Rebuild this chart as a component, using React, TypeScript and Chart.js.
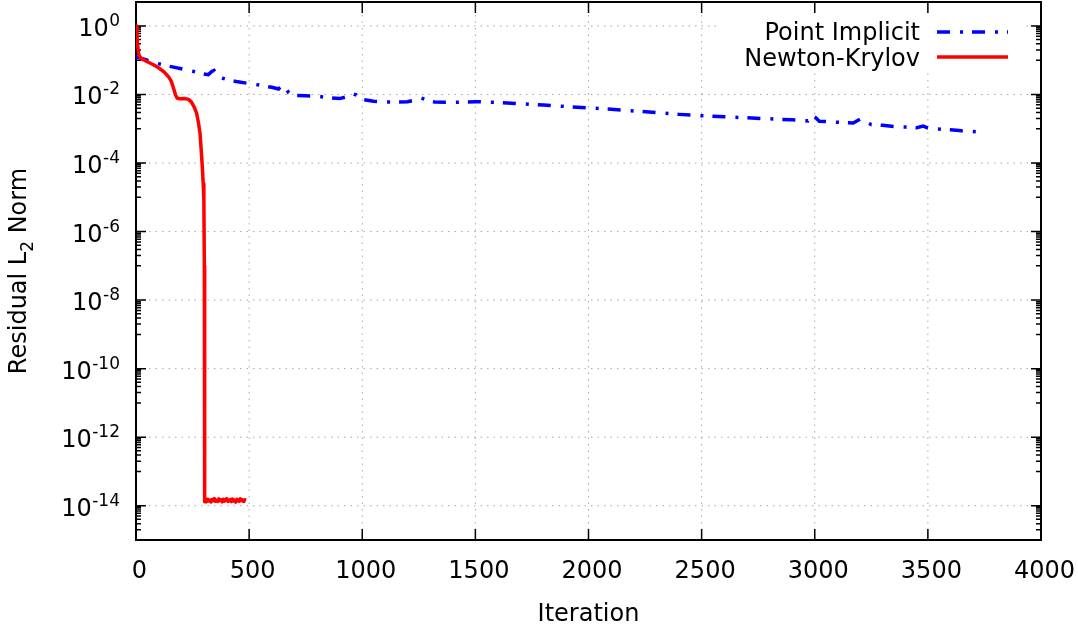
import { useEffect, useRef } from 'react';
import { Chart, registerables } from 'chart.js';

Chart.register(...registerables);

const FONT = '"DejaVu Sans", sans-serif';

// ---- Data ----
const nkIter = [
  0, 4, 8, 12, 18, 30, 50, 75, 100, 125, 145, 155, 165, 175, 182, 195, 215, 232, 245, 258,
  268, 276, 283, 288, 293, 297, 300, 302, 303, 304,
  306, 311, 316, 321, 326, 331, 336, 341, 346, 351, 356, 361, 366, 371, 376, 381, 386, 391,
  396, 401, 406, 411, 416, 421, 426, 431, 436, 441, 446, 451, 456, 461, 466, 471, 476, 481, 486,
];
const nkResidual = [
  1.0, 0.5, 0.25, 0.15, 0.12, 0.105, 0.09, 0.075, 0.06, 0.045, 0.032, 0.025, 0.016, 0.0095,
  0.0078, 0.0075, 0.0076, 0.0072, 0.006, 0.0042, 0.0028, 0.0015, 7.4e-4, 2.5e-4, 7.8e-5, 2.5e-5,
  8e-6, 1e-7, 1e-10, 1.3e-14,
  1.42e-14, 1.31e-14, 1.55e-14, 1.38e-14, 1.47e-14, 1.29e-14, 1.52e-14, 1.4e-14, 1.61e-14,
  1.35e-14, 1.44e-14, 1.33e-14, 1.58e-14, 1.41e-14, 1.49e-14, 1.3e-14, 1.53e-14, 1.37e-14,
  1.46e-14, 1.62e-14, 1.34e-14, 1.43e-14, 1.51e-14, 1.32e-14, 1.57e-14, 1.39e-14, 1.45e-14,
  1.28e-14, 1.54e-14, 1.42e-14, 1.36e-14, 1.59e-14, 1.4e-14, 1.48e-14, 1.33e-14, 1.5e-14, 1.44e-14,
];

const piIter = [
  0, 25, 50, 100, 150, 200, 250, 300, 320, 335, 345, 355, 370, 400, 450, 500, 550, 600, 630, 645,
  660, 675, 700, 750, 800, 850, 900, 930, 955, 975, 1000, 1050, 1100, 1150, 1200, 1240, 1260, 1290,
  1320, 1400, 1500, 1600, 1700, 1800, 1900, 2000, 2100, 2200, 2300, 2400, 2500, 2600, 2700, 2800,
  2900, 2970, 2990, 3005, 3020, 3100, 3170, 3200, 3220, 3250, 3300, 3350, 3400, 3450, 3480, 3500,
  3550, 3600, 3650, 3700, 3750,
];
const piResidual = [
  0.126, 0.112, 0.1, 0.0794, 0.0661, 0.0562, 0.0479, 0.0398, 0.038, 0.0468, 0.0501, 0.0398, 0.0316,
  0.0275, 0.0234, 0.0209, 0.0186, 0.0162, 0.0145, 0.0182, 0.0166, 0.0112, 0.00933, 0.00912, 0.00891,
  0.00813, 0.00759, 0.00851, 0.0107, 0.00955, 0.00724, 0.00631, 0.00603, 0.00603, 0.00617, 0.00708,
  0.00794, 0.00676, 0.00603, 0.00589, 0.00617, 0.00589, 0.00537, 0.0049, 0.00447, 0.00407, 0.00372,
  0.00331, 0.00295, 0.00263, 0.0024, 0.00224, 0.00209, 0.00195, 0.00182, 0.0017, 0.0024, 0.00209,
  0.00166, 0.00155, 0.00148, 0.00191, 0.00166, 0.00132, 0.00126, 0.00117, 0.00112, 0.00107, 0.0012,
  0.00105, 0.000977, 0.000933, 0.000871, 0.000832, 0.000794,
];

// ---- Axes ----
const xTickValues = [0, 500, 1000, 1500, 2000, 2500, 3000, 3500, 4000];
const yTickExponents = [0, -2, -4, -6, -8, -10, -12, -14];
const yMinorFactors = [0.1, 0.2, 0.3, 0.4, 0.5, 0.6, 0.7, 0.8, 0.9];
const X_MIN = 0;
const X_MAX = 4000;
const Y_MIN = 1e-15;
const Y_MAX = 5;

const seriesNames = ['Point Implicit', 'Newton-Krylov'];
const PI_DASH = [13, 10, 3, 9];
const LINE_W = 3.5;

const gnuplotPlugin = {
  id: 'gnuplotAxes',
  beforeDatasetsDraw(chart: any) {
    const { ctx, chartArea: a, scales } = chart;
    const xs = scales.x;
    const ys = scales.y;
    ctx.save();
    // grid
    ctx.strokeStyle = '#a8a8a8';
    ctx.lineWidth = 1;
    ctx.setLineDash([1.5, 5]);
    ctx.beginPath();
    for (const v of xTickValues) {
      if (v <= X_MIN || v >= X_MAX) continue;
      const px = xs.getPixelForValue(v);
      ctx.moveTo(px, a.top);
      ctx.lineTo(px, a.bottom);
    }
    for (const e of yTickExponents) {
      const py = ys.getPixelForValue(Math.pow(10, e));
      ctx.moveTo(a.left, py);
      ctx.lineTo(a.right, py);
    }
    ctx.stroke();
    ctx.setLineDash([]);

    // ticks
    ctx.strokeStyle = '#000';
    ctx.lineWidth = 1.5;
    ctx.beginPath();
    for (const v of xTickValues) {
      const px = xs.getPixelForValue(v);
      ctx.moveTo(px, a.bottom);
      ctx.lineTo(px, a.bottom - 11);
      ctx.moveTo(px, a.top);
      ctx.lineTo(px, a.top + 11);
    }
    for (const e of yTickExponents) {
      const py = ys.getPixelForValue(Math.pow(10, e));
      ctx.moveTo(a.left, py);
      ctx.lineTo(a.left + 10, py);
      ctx.moveTo(a.right, py);
      ctx.lineTo(a.right - 10, py);
      for (const f of yMinorFactors) {
        const v = Math.pow(10, e) * f;
        if (v < Y_MIN || v > Y_MAX) continue;
        const pm = ys.getPixelForValue(v);
        ctx.moveTo(a.left, pm);
        ctx.lineTo(a.left + 5, pm);
        ctx.moveTo(a.right, pm);
        ctx.lineTo(a.right - 5, pm);
      }
    }
    ctx.stroke();

    // border
    ctx.lineWidth = 2;
    ctx.strokeRect(a.left, a.top, a.right - a.left, a.bottom - a.top);

    // x tick labels
    ctx.fillStyle = '#000';
    ctx.font = `24px ${FONT}`;
    ctx.textAlign = 'center';
    ctx.textBaseline = 'alphabetic';
    for (const v of xTickValues) {
      const px = xs.getPixelForValue(v);
      ctx.fillText(String(v), px + 3.5, 578);
    }

    // y tick labels 10^e
    const R = 120;
    for (const e of yTickExponents) {
      const py = ys.getPixelForValue(Math.pow(10, e));
      ctx.font = `17px ${FONT}`;
      const expStr = String(e);
      const expW = ctx.measureText(expStr).width;
      ctx.textAlign = 'left';
      ctx.fillText(expStr, R - expW, py);
      ctx.font = `24px ${FONT}`;
      ctx.textAlign = 'right';
      ctx.fillText('10', R - expW - 0.5, py + 10);
    }

    // x title
    ctx.font = `24px ${FONT}`;
    ctx.textAlign = 'center';
    ctx.fillText('Iteration', (a.left + a.right) / 2, 621);

    // y title with subscript
    ctx.save();
    ctx.translate(26, (a.top + a.bottom) / 2);
    ctx.rotate(-Math.PI / 2);
    ctx.textAlign = 'left';
    ctx.font = `24px ${FONT}`;
    const p1 = 'Residual L';
    const p3 = ' Norm';
    const w1 = ctx.measureText(p1).width;
    const w3 = ctx.measureText(p3).width;
    ctx.font = `17px ${FONT}`;
    const w2 = ctx.measureText('2').width;
    let sx = -(w1 + w2 + w3) / 2;
    ctx.font = `24px ${FONT}`;
    ctx.fillText(p1, sx, 0);
    sx += w1;
    ctx.font = `17px ${FONT}`;
    ctx.fillText('2', sx, 7);
    sx += w2;
    ctx.font = `24px ${FONT}`;
    ctx.fillText(p3, sx, 0);
    ctx.restore();

    ctx.restore();
  },
  afterDatasetsDraw(chart: any) {
    const { ctx } = chart;
    ctx.save();
    ctx.fillStyle = '#fff';
    ctx.fillRect(720, 14, 302, 56);
    ctx.fillStyle = '#000';
    ctx.font = `24px ${FONT}`;
    ctx.textAlign = 'right';
    ctx.textBaseline = 'alphabetic';
    ctx.fillText(seriesNames[0], 920, 40);
    ctx.fillText(seriesNames[1], 920, 65.5);
    ctx.lineWidth = LINE_W;
    ctx.strokeStyle = '#0000ff';
    ctx.setLineDash(PI_DASH);
    ctx.beginPath();
    ctx.moveTo(937, 32);
    ctx.lineTo(1008, 32);
    ctx.stroke();
    ctx.setLineDash([]);
    ctx.strokeStyle = '#ff0000';
    ctx.beginPath();
    ctx.moveTo(937, 57);
    ctx.lineTo(1008, 57);
    ctx.stroke();
    ctx.restore();
  },
};

export default function App() {
  const ref = useRef<HTMLCanvasElement | null>(null);
  useEffect(() => {
    if (!ref.current) return;
    const chart = new Chart(ref.current, {
      type: 'line',
      data: {
        datasets: [
          {
            label: seriesNames[1],
            data: nkIter.map((x, i) => ({ x, y: nkResidual[i] })),
            borderColor: '#ff0000',
            borderWidth: LINE_W,
            borderJoinStyle: 'round',
            pointRadius: 0,
            fill: false,
            tension: 0,
          },
          {
            label: seriesNames[0],
            data: piIter.map((x, i) => ({ x, y: piResidual[i] })),
            borderColor: '#0000ff',
            borderWidth: LINE_W,
            borderDash: PI_DASH,
            pointRadius: 0,
            fill: false,
            tension: 0,
          },
        ],
      },
      options: {
        responsive: false,
        animation: false,
        devicePixelRatio: 1,
        events: [],
        layout: { padding: { left: 136, top: 2, right: 37, bottom: 87 } },
        plugins: { legend: { display: false }, tooltip: { enabled: false } },
        scales: {
          x: { type: 'linear', min: X_MIN, max: X_MAX, display: false },
          y: { type: 'logarithmic', min: Y_MIN, max: Y_MAX, display: false },
        },
      },
      plugins: [gnuplotPlugin],
    } as any);
    return () => chart.destroy();
  }, []);
  return (
    <div style={{ position: 'fixed', left: 0, top: 0, width: 1078, height: 627, background: '#fff' }}>
      <canvas ref={ref} width={1078} height={627} style={{ display: 'block' }} />
    </div>
  );
}
